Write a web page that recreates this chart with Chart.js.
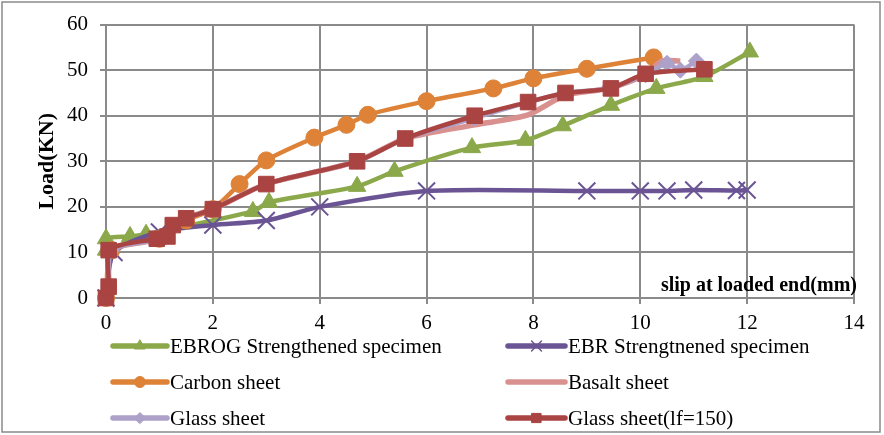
<!DOCTYPE html>
<html>
<head>
<meta charset="utf-8">
<script src="https://cdn.jsdelivr.net/npm/chart.js@4"></script>
<style>
html,body{margin:0;padding:0;background:#fff;}
#wrap{width:884px;height:435px;position:relative;}
</style>
</head>
<body>
<div id="wrap"><canvas id="c" width="884" height="435"></canvas></div>
<script>
// ---- data ----
const seriesNames = ["EBROG Strengthened specimen","EBR Strengtnened specimen","Carbon sheet","Basalt sheet","Glass sheet","Glass sheet(lf=150)"];
const xTicks = [0,2,4,6,8,10,12,14];
const yTicks = [0,10,20,30,40,50,60];

const ebrogX = [0,0,0.45,0.75,2.75,3.05,4.7,5.4,6.85,7.85,8.55,9.45,10.3,11.2,12.05];
const ebrogY = [10.5,13,13.5,14,19,21,24.5,27.8,33,34.6,37.8,42.3,46,48.6,54];

const ebrX = [0,0.15,1,2,3,4,6,9,10,10.5,11,11.8,12];
const ebrY = [0,10,14.5,16,17,20,23.5,23.5,23.5,23.5,23.7,23.6,23.7];

const carbonX = [0,0.1,1,1.5,2,2.5,3,3.9,4.5,4.9,6,7.25,8,9,10.25];
const carbonY = [0,10.5,13,17,19.5,25,30.2,35.2,38,40.2,43.2,46,48.2,50.3,52.8];

const basaltX = [0,0.05,0.1,1,1.5,2,3,4.7,5.6,6.9,7.9,8.6,9.4,10.1,10.4,10.75];
const basaltY = [0,2.5,10.5,13,17.5,19.5,25,30,35,38,40.2,44.5,46,49,52,52];

const glassX = [0,0.05,0.1,1,1.5,2,3,4.7,5.6,6.9,7.9,8.6,9.4,10.1,10.5,10.75,11.05];
const glassY = [0,2.5,10.5,13,17.5,19.5,25,30,35,39.5,43,45,46,49,51.5,50,52];

const glass150X = [0,0.05,0.05,0.95,1.15,1.25,1.5,2,3,4.7,5.6,6.9,7.9,8.6,9.45,10.1,11.2];
const glass150Y = [0,2.5,10.5,13,13.5,16,17.5,19.5,25,30,35,40,43,45,46,49.2,50.2];

// ---- build ----
function pts(xs, ys){ return xs.map((x,i)=>({x:x,y:ys[i]})); }
const colors = ["#8BA84A","#6B5494","#DE8237","#D9918F","#ADA0C9","#A94442"];
const styles = ["triangle","crossRot","circle",false,"rectRot","rect"];
const radii = [10,12,8.5,0,8,11];
const legendR = [6,7,5.5,0,5.5,6.5];
const widths = [4.5,4.5,4.5,5.5,4.5,4.5];
const dataXY = [[ebrogX,ebrogY],[ebrX,ebrY],[carbonX,carbonY],[basaltX,basaltY],[glassX,glassY],[glass150X,glass150Y]];
const orders = [6,5,4,3,2,1];

const datasets = dataXY.map((d,i)=>({
  label: seriesNames[i],
  data: pts(d[0],d[1]),
  showLine: true,
  borderColor: colors[i],
  backgroundColor: colors[i],
  borderWidth: widths[i],
  pointStyle: styles[i] || 'circle',
  pointRadius: radii[i],
  pointHoverRadius: radii[i],
  pointBorderWidth: i===1 ? 2 : 1,
  tension: 0.25,
  clip: false,
  order: orders[i]
}));

const FONT = "'Liberation Serif', 'Times New Roman', serif";

const extras = {
  id: 'extras',
  beforeDraw(chart){
    const ctx = chart.ctx;
    ctx.save();
    ctx.fillStyle = '#fff';
    ctx.fillRect(0,0,chart.width,chart.height);
    ctx.strokeStyle = '#8a8a8a';
    ctx.lineWidth = 1.5;
    ctx.strokeRect(2,2,878,430);
    ctx.restore();
  },
  afterDatasetsDraw(chart){
    const ctx = chart.ctx;
    const ca = chart.chartArea;
    ctx.save();
    ctx.font = "bold 20px " + FONT;
    ctx.fillStyle = '#000';
    ctx.textAlign = 'right';
    ctx.textBaseline = 'middle';
    ctx.fillText("slip at loaded end(mm)", ca.right + 3, ca.bottom - 12);
    // legend
    const cols = [[113,167,170],[508,565,568]];
    const rows = [346,382,418];
    ctx.font = "21px " + FONT;
    ctx.textAlign = 'left';
    chart.data.datasets.forEach((ds,i)=>{
      const c = cols[i%2], y = rows[Math.floor(i/2)];
      ctx.strokeStyle = ds.borderColor;
      ctx.lineWidth = 5.5;
      ctx.lineCap = 'round';
      ctx.beginPath(); ctx.moveTo(c[0],y); ctx.lineTo(c[1],y); ctx.stroke();
      if (styles[i]) {
        ctx.fillStyle = ds.backgroundColor;
        ctx.strokeStyle = ds.borderColor;
        ctx.lineWidth = i===1 ? 1.5 : 1;
        Chart.helpers.drawPoint(ctx, {pointStyle: styles[i], radius: legendR[i], borderWidth: ctx.lineWidth, rotation:0}, (c[0]+c[1])/2, y);
      }
      ctx.fillStyle = '#000';
      ctx.fillText(ds.label, c[2], y+1);
    });
    ctx.restore();
  }
};

new Chart(document.getElementById('c'), {
  type: 'scatter',
  data: { datasets },
  options: {
    responsive: false,
    animation: false,
    devicePixelRatio: 1,
    layout: { padding: { left: 0, top: 20, right: 30, bottom: 97 } },
    plugins: { legend: { display: false }, tooltip: { enabled: false } },
    scales: {
      x: {
        type: 'linear', min: 0, max: 14,
        afterBuildTicks(s){ s.ticks = xTicks.map(v=>({value:v})); },
        afterFit(s){ s.height = 40; },
        grid: { color: '#8a8a8a', lineWidth: 2, tickLength: 6, drawTicks: true },
        border: { color: '#8a8a8a', width: 2 },
        ticks: { font: { family: FONT, size: 21 }, color: '#000', padding: 7, maxRotation: 0 }
      },
      y: {
        type: 'linear', min: 0, max: 60,
        afterBuildTicks(s){ s.ticks = yTicks.map(v=>({value:v})); },
        afterFit(s){ s.width = 106; },
        grid: { color: '#8a8a8a', lineWidth: 2, tickLength: 6 },
        border: { color: '#8a8a8a', width: 2 },
        ticks: { font: { family: FONT, size: 21 }, color: '#000', padding: 12 },
        title: { display: true, text: 'Load(KN)', font: { family: FONT, size: 22, weight: 'bold' }, color: '#000', padding: { top: 34, bottom: 0 } }
      }
    }
  },
  plugins: [extras]
});
</script>
</body>
</html>
